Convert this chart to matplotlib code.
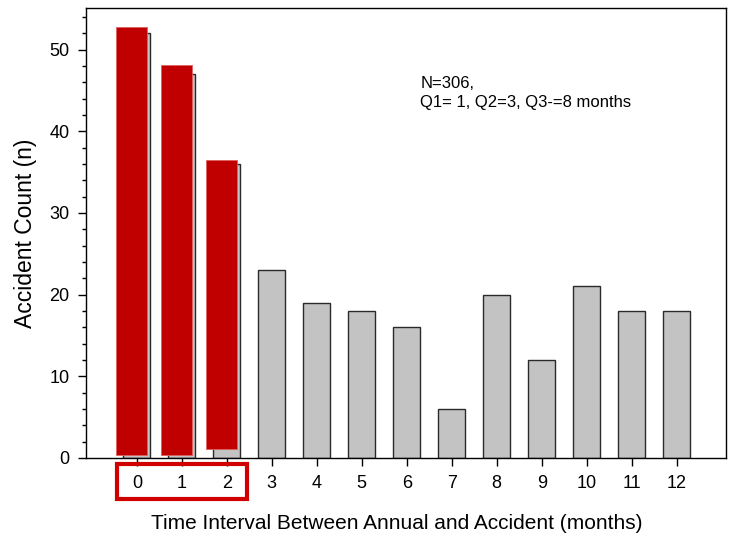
import numpy as np
import matplotlib.pyplot as plt
from matplotlib.patches import Rectangle
from matplotlib.ticker import MultipleLocator
import matplotlib.transforms as mtransforms

plt.rcParams['font.family'] = ['Liberation Sans', 'DejaVu Sans']

months = list(range(13))
counts = [52, 47, 36, 23, 19, 18, 16, 6, 20, 12, 21, 18, 18]

# red highlight blocks drawn over the first three bars
hl_months = [0, 1, 2]
hl_bottom = [0.4, 0.4, 1.05]
hl_top = [52.8, 48.1, 36.5]

fig = plt.figure(figsize=(7.32, 5.33), dpi=100)
ax = fig.add_axes([0.1175, 0.141, 0.8745, 0.844])

ax.bar(months, counts, width=0.6, color='#c3c3c3', edgecolor='#2a2a2a', linewidth=1.0, zorder=2)

hl_x = np.array(hl_months) - 0.12
hl_h = np.array(hl_top) - np.array(hl_bottom)
ax.bar(hl_x, hl_h, bottom=hl_bottom, width=0.69, color='#c00000',
       edgecolor='#e06060', linewidth=0.6, zorder=3)

ax.set_xlim(-1.13, 13.1)
ax.set_ylim(0, 55.1)
ax.set_xticks(months)
ax.yaxis.set_major_locator(MultipleLocator(10))
ax.yaxis.set_minor_locator(MultipleLocator(2))
ax.tick_params(axis='both', which='major', direction='out', length=6, width=1, labelsize=13, pad=6)
ax.tick_params(axis='y', which='minor', direction='out', length=3, width=1)
ax.tick_params(top=False, right=False)
for s in ax.spines.values():
    s.set_linewidth(1)

ax.set_xlabel('Time Interval Between Annual and Accident (months)', fontsize=15, labelpad=15)
ax.xaxis.set_label_coords(0.486, -0.125)
ax.set_ylabel('Accident Count (n)', fontsize=16.5, labelpad=9)

ax.text(0.522, 0.848, 'N=306,\nQ1= 1, Q2=3, Q3-=8 months', transform=ax.transAxes,
        fontsize=12, va='top', ha='left', linespacing=1.3)

# red box around tick labels 0-2
trans = mtransforms.blended_transform_factory(ax.transData, ax.transAxes)
box = Rectangle((-0.45, -0.091), 2.89, 0.078, transform=trans, fill=False,
                edgecolor='#d00000', linewidth=3, clip_on=False, zorder=5)
ax.add_patch(box)

fig.savefig('out.png', dpi=100)
